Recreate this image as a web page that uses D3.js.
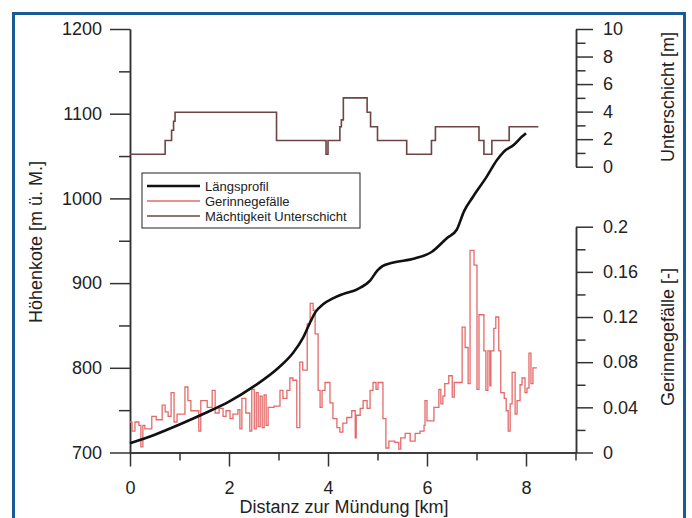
<!DOCTYPE html>
<html>
<head>
<meta charset="utf-8">
<script src="https://cdn.jsdelivr.net/npm/d3@7"></script>
<style>
    body { margin: 0; background: #fff; }
    svg { font-family: Arial, "Liberation Sans", sans-serif; }
    .axis path, .axis line { stroke: #333; stroke-width: 1.5; }
    .axis text { font-size: 18px; fill: #222; }
    .title { font-size: 18px; fill: #222; }
    .legend text { font-size: 13px; fill: #222; }
</style>
</head>
<body>
<svg id="vis" width="692" height="518"></svg>
<script>
/*
 * Längsprofil, Gerinnegefälle und Mächtigkeit der Unterschicht
 */

window.onload = function(){
    setup();
};

// Längsprofil (Höhenkote, m ü. M.)
const PROFILE_KM = [0, 0.5, 1.0, 1.5, 2.0, 2.5, 3.0, 3.3, 3.5, 3.65, 3.75, 3.9, 4.1, 4.3, 4.6, 4.85, 5.0, 5.1, 5.3, 5.75, 6.1, 6.4, 6.6, 6.75, 6.93, 7.21, 7.41, 7.55, 7.75, 7.92, 8.0];
const PROFILE_ELEV = [711, 721, 733, 746, 760, 778, 800, 818, 836, 855, 866, 875, 882, 887, 893, 903, 915, 920, 924, 929, 937, 953, 963, 985, 1002, 1026, 1045, 1055, 1063, 1073, 1077];

// Gerinnegefälle [-] (Treppenfunktion, Wert gilt ab km)
const SLOPE_KM = [0.00, 0.04, 0.10, 0.18, 0.22, 0.26, 0.30, 0.44, 0.53, 0.65, 0.71, 0.77, 0.83, 0.89, 0.95, 1.11, 1.17, 1.23, 1.39, 1.43,
    1.56, 1.66, 1.72, 1.80, 1.88, 1.94, 2.02, 2.08, 2.18, 2.22, 2.26, 2.34, 2.42, 2.46, 2.51, 2.55, 2.59, 2.63, 2.67, 2.71,
    2.75, 2.79, 2.91, 3.03, 3.09, 3.17, 3.23, 3.29, 3.37, 3.43, 3.49, 3.58, 3.64, 3.70, 3.74, 3.80, 3.84, 3.88, 3.94, 4.04,
    4.10, 4.18, 4.24, 4.30, 4.38, 4.48, 4.55, 4.57, 4.65, 4.71, 4.79, 4.85, 4.91, 4.97, 5.01, 5.11, 5.17, 5.23, 5.35, 5.43,
    5.47, 5.56, 5.66, 5.76, 5.86, 5.94, 5.96, 6.00, 6.14, 6.24, 6.28, 6.32, 6.36, 6.44, 6.51, 6.55, 6.71, 6.77, 6.83, 6.87,
    6.95, 7.01, 7.05, 7.15, 7.19, 7.23, 7.27, 7.29, 7.35, 7.39, 7.45, 7.49, 7.56, 7.60, 7.64, 7.68, 7.72, 7.78, 7.82, 7.88,
    7.92, 7.98, 8.02, 8.06, 8.10, 8.14, 8.22];
const SLOPE = [0.027, 0.019, 0.027, 0.024, 0.005, 0.024, 0.021, 0.032, 0.029, 0.042, 0.036, 0.032, 0.053, 0.027, 0.034, 0.058, 0.046, 0.037, 0.019, 0.046,
    0.040, 0.055, 0.035, 0.039, 0.032, 0.037, 0.030, 0.034, 0.038, 0.021, 0.048, 0.035, 0.019, 0.056, 0.021, 0.053, 0.023, 0.050, 0.022, 0.051,
    0.024, 0.040, 0.041, 0.055, 0.048, 0.055, 0.066, 0.064, 0.022, 0.080, 0.073, 0.114, 0.132, 0.126, 0.105, 0.055, 0.040, 0.055, 0.062, 0.044,
    0.030, 0.022, 0.018, 0.026, 0.031, 0.037, 0.013, 0.033, 0.039, 0.046, 0.039, 0.055, 0.062, 0.056, 0.062, 0.030, 0.004, 0.010, 0.009, 0.003,
    0.013, 0.017, 0.010, 0.017, 0.019, 0.024, 0.046, 0.028, 0.040, 0.056, 0.043, 0.050, 0.061, 0.068, 0.049, 0.062, 0.111, 0.093, 0.061, 0.179,
    0.166, 0.056, 0.122, 0.090, 0.055, 0.090, 0.059, 0.090, 0.110, 0.120, 0.090, 0.053, 0.048, 0.037, 0.019, 0.043, 0.071, 0.034, 0.046, 0.060,
    0.066, 0.053, 0.057, 0.088, 0.061, 0.075, 0.075];

// Mächtigkeit Unterschicht [m] (Treppenfunktion)
const LAYER_KM = [0, 0.71, 0.84, 0.88, 0.91, 2.96, 3.96, 4.0, 4.24, 4.27, 4.31, 4.79, 4.86, 5.0, 5.59, 6.09, 6.17, 7.05, 7.15, 7.31, 7.66, 8.25];
const LAYER = [0.9, 1.9, 2.65, 3.3, 3.95, 1.9, 0.9, 1.9, 2.9, 3.4, 5.0, 3.95, 2.9, 1.9, 0.9, 1.9, 2.9, 1.9, 0.9, 1.9, 2.9, 2.9];

const X_TICKS = [0, 2, 4, 6, 8];
const X_MINOR = [1, 3, 5, 7, 9];
const ELEV_TICKS = [700, 800, 900, 1000, 1100, 1200];
const ELEV_MINOR = [750, 850, 950, 1050, 1150];
const LAYER_TICKS = [0, 2, 4, 6, 8, 10];
const LAYER_MINOR = [1, 3, 5, 7, 9];
const SLOPE_TICKS = [0, 0.04, 0.08, 0.12, 0.16, 0.2];
const SLOPE_MINOR = [0.02, 0.06, 0.1, 0.14, 0.18];

const LEGEND = ["Längsprofil", "Gerinnegefälle", "Mächtigkeit Unterschicht"];
const COLORS = {profile: "#111", slope: "#e46a6a", layer: "#6e4444"};

var Chart = function(){
    this.svg;
    this.x; this.yElev; this.yLayer; this.ySlope;

    this.setupScales = function(){
        this.x = d3.scaleLinear().domain([0, 9]).range([130, 575.5]);
        this.yElev = d3.scaleLinear().domain([700, 1200]).range([452.5, 29]);
        this.yLayer = d3.scaleLinear().domain([0, 10]).range([166.7, 29]);
        this.ySlope = d3.scaleLinear().domain([0, 0.2]).range([452.5, 226.7]);
    };

    this.frame = function(){
        this.svg.append("rect")
            .attr("x", 13.5).attr("y", 13.5)
            .attr("width", 671).attr("height", 520)
            .attr("fill", "none")
            .attr("stroke", "#1a5a98")
            .attr("stroke-width", 3);
    };

    // draw one axis with major (labelled) and minor ticks
    this.axis = function(make, scale, major, minor, size, pad, fmt, transform){
        this.svg.append("g").attr("class", "axis")
            .attr("transform", transform)
            .call(make(scale).tickValues(minor).tickSize(size / 2 + 1).tickSizeOuter(0).tickFormat(""));
        this.svg.append("g").attr("class", "axis")
            .attr("transform", transform)
            .call(make(scale).tickValues(major).tickSize(size).tickSizeOuter(0).tickPadding(pad).tickFormat(fmt));
    };

    this.setupAxes = function(){
        var f = d3.format("");
        this.axis(d3.axisBottom, this.x, X_TICKS, X_MINOR, 14, 15, f, "translate(0,452.5)");
        this.axis(d3.axisLeft, this.yElev, ELEV_TICKS, ELEV_MINOR, 20, 8, f, "translate(130,0)");
        this.axis(d3.axisRight, this.yLayer, LAYER_TICKS, LAYER_MINOR, 17, 10, f, "translate(576,0)");
        this.axis(d3.axisRight, this.ySlope, SLOPE_TICKS, SLOPE_MINOR, 17, 10, d3.format(""), "translate(576,0)");

        this.svg.append("text").attr("class", "title")
            .attr("x", 344).attr("y", 513)
            .attr("text-anchor", "middle")
            .text("Distanz zur Mündung [km]");
        this.svg.append("text").attr("class", "title")
            .attr("transform", "translate(42,242) rotate(-90)")
            .attr("text-anchor", "middle")
            .text("Höhenkote [m ü. M.]");
        this.svg.append("text").attr("class", "title")
            .attr("transform", "translate(674,97) rotate(-90)")
            .attr("text-anchor", "middle")
            .text("Unterschicht [m]");
        this.svg.append("text").attr("class", "title")
            .attr("transform", "translate(674,337) rotate(-90)")
            .attr("text-anchor", "middle")
            .text("Gerinnegefälle [-]");
    };

    this.drawLines = function(){
        var x = this.x, yE = this.yElev, yL = this.yLayer, yS = this.ySlope;

        var slopeLine = d3.line().curve(d3.curveStepAfter)
            .x(function(d, i){ return x(SLOPE_KM[i]); })
            .y(function(d){ return yS(d); });
        this.svg.append("path")
            .attr("d", slopeLine(SLOPE))
            .attr("fill", "none")
            .attr("stroke", COLORS.slope)
            .attr("stroke-width", 1.3);

        var layerLine = d3.line().curve(d3.curveStepAfter)
            .x(function(d, i){ return x(LAYER_KM[i]); })
            .y(function(d){ return yL(d); });
        this.svg.append("path")
            .attr("d", layerLine(LAYER))
            .attr("fill", "none")
            .attr("stroke", COLORS.layer)
            .attr("stroke-width", 1.6);

        var profileLine = d3.line().curve(d3.curveMonotoneX)
            .x(function(d, i){ return x(PROFILE_KM[i]); })
            .y(function(d){ return yE(d); });
        this.svg.append("path")
            .attr("d", profileLine(PROFILE_ELEV))
            .attr("fill", "none")
            .attr("stroke", COLORS.profile)
            .attr("stroke-width", 2.6);
    };

    this.setupLegend = function(){
        var g = this.svg.append("g").attr("class", "legend");
        g.append("rect")
            .attr("x", 142).attr("y", 173)
            .attr("width", 218).attr("height", 55)
            .attr("fill", "#fff")
            .attr("stroke", "#222")
            .attr("stroke-width", 1);
        var cols = [COLORS.profile, COLORS.slope, COLORS.layer];
        var widths = [2.6, 1.3, 1.6];
        LEGEND.forEach(function(name, i){
            var y = 186 + i * 15;
            g.append("line")
                .attr("x1", 147).attr("x2", 200)
                .attr("y1", y).attr("y2", y)
                .attr("stroke", cols[i])
                .attr("stroke-width", widths[i]);
            g.append("text")
                .attr("x", 205).attr("y", y)
                .attr("dy", "0.35em")
                .text(name);
        });
    };
};

var _chart;

function setup(){
    _chart = new Chart();
    _chart.svg = d3.select("#vis");
    _chart.setupScales();
    _chart.frame();
    _chart.setupAxes();
    _chart.drawLines();
    _chart.setupLegend();
}
</script>
</body>
</html>
